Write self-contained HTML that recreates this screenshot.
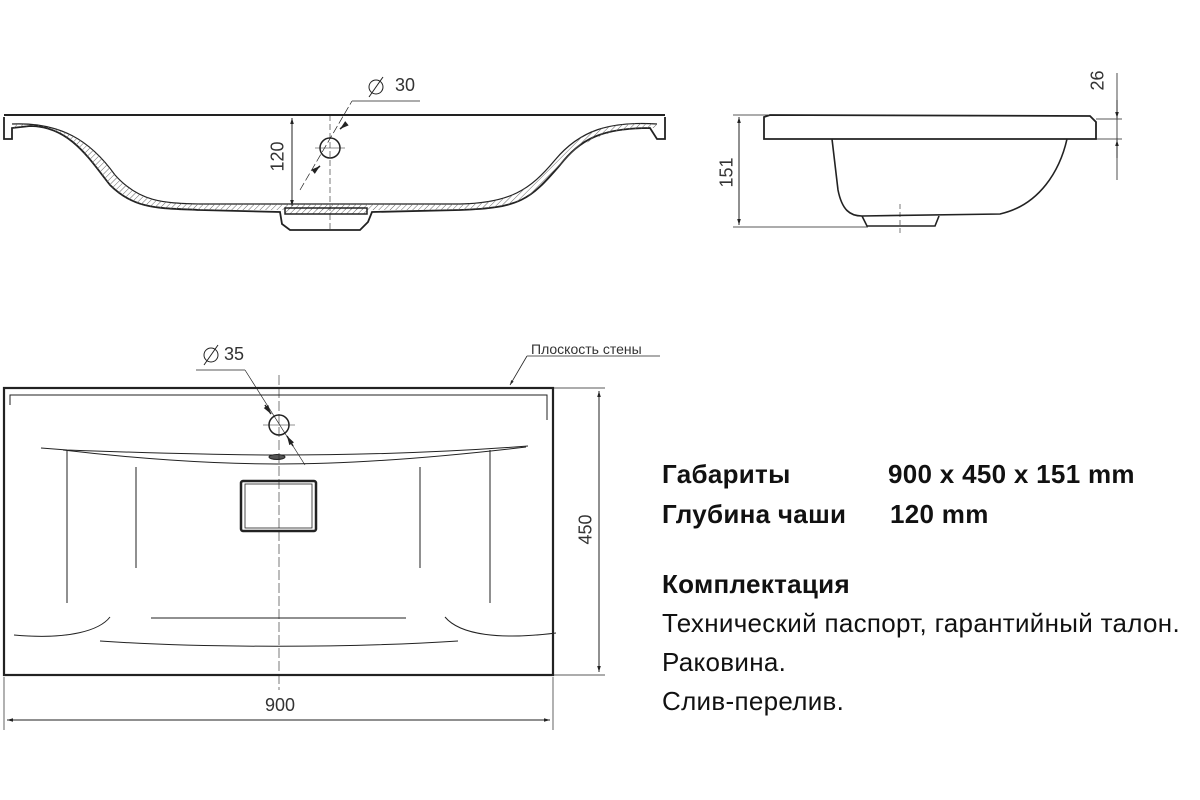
<!DOCTYPE html>
<html><head><meta charset="utf-8"><style>
body{margin:0;background:#fff;width:1200px;height:800px;overflow:hidden;position:relative;font-family:"Liberation Sans",sans-serif}
.t{position:absolute;font-size:26px;letter-spacing:0.3px;color:#111;white-space:nowrap}
.b{font-weight:bold}
.d span{white-space:nowrap}
</style></head><body>
<svg width="1200" height="800" style="position:absolute;left:0;top:0" fill="none" stroke="#222" stroke-width="1.5">
<defs>
<marker id="a" viewBox="0 0 10 10" refX="10" refY="5" markerWidth="10" markerHeight="6" orient="auto-start-reverse"><path d="M0,2 L10,5 L0,8z" fill="#222" stroke="none"/></marker>
<pattern id="h" width="4" height="4" patternUnits="userSpaceOnUse" patternTransform="rotate(45)"><line x1="0" y1="0" x2="0" y2="4" stroke="#666" stroke-width="1"/></pattern>
</defs>
<line x1="4" y1="115" x2="665" y2="115" stroke-width="2"/>
<path d="M4,117 L4,139 L12,139 L12,128 L30,126 C70,126 90,160 110,185 C135,210 160,208 200,210 L280,212 L282,224 L290,230 L360,230 L368,222 L372,212 L460,210 C520,208 530,200 560,165 C580,140 600,128 650,128 L657,139 L665,139 L665,117" stroke-width="1.8"/>
<path d="M12,124 C60,122 90,140 115,175 C140,203 165,203 200,204 L460,204 C510,203 530,190 555,160 C580,130 610,121 657,124" stroke-width="1.2"/>
<path d="M12,124 C60,122 90,140 115,175 C140,203 165,203 200,204 L460,204 C510,203 530,190 555,160 C580,130 610,121 657,124 L657,128 C610,128 585,138 560,165 C530,200 520,208 460,210 L200,210 C160,208 135,210 110,185 C90,160 70,126 30,126 L12,128z" fill="url(#h)" stroke="none"/>
<rect x="285" y="208" width="82" height="6" fill="url(#h)"/>
<line x1="292" y1="118" x2="292" y2="206" marker-start="url(#a)" marker-end="url(#a)" stroke-width="1"/>
<circle cx="330" cy="148" r="10"/>
<line x1="330" y1="115" x2="330" y2="232" stroke-width="0.6" stroke-dasharray="6,3"/>
<line x1="315" y1="148" x2="345" y2="148" stroke-width="0.6"/>
<line x1="300" y1="190" x2="352" y2="101" stroke-width="0.7" stroke-dasharray="8,3"/>
<line x1="352" y1="101" x2="420" y2="101" stroke-width="0.7"/>
<line x1="340" y1="129" x2="346" y2="124" marker-start="url(#a)" stroke-width="1.5"/>
<line x1="320" y1="166" x2="314" y2="171" marker-start="url(#a)" stroke-width="1.5"/>
<circle cx="376" cy="87" r="7" stroke-width="1"/><line x1="369" y1="97" x2="383" y2="77" stroke-width="1"/>
<path d="M764,139 L764,117 L770,115 L1090,116 L1096,122 L1096,139 Z" stroke-width="1.8"/>
<path d="M832,139 L838,190 C842,210 850,216 862,216 L1000,214 C1040,205 1060,170 1067,139" stroke-width="1.6"/>
<path d="M862,216 L867,226 L935,226 L939,216" stroke-width="1.6"/>
<line x1="900" y1="204" x2="900" y2="233" stroke-width="0.6" stroke-dasharray="5,3"/>
<line x1="733" y1="115" x2="768" y2="115" stroke-width="0.7"/>
<line x1="733" y1="227" x2="868" y2="227" stroke-width="0.7"/>
<line x1="739" y1="117" x2="739" y2="225" marker-start="url(#a)" marker-end="url(#a)" stroke-width="1"/>
<line x1="1096" y1="119" x2="1122" y2="119" stroke-width="0.7"/>
<line x1="1096" y1="139" x2="1122" y2="139" stroke-width="0.7"/>
<line x1="1117" y1="73" x2="1117" y2="180" stroke-width="0.8"/>
<line x1="1117" y1="100" x2="1117" y2="118" marker-end="url(#a)" stroke-width="1"/>
<line x1="1117" y1="158" x2="1117" y2="140" marker-end="url(#a)" stroke-width="1"/>
<rect x="4" y="388" width="549" height="287" stroke-width="2.2"/>
<path d="M10,405 L10,395 L547,395 L547,420" stroke-width="1"/>
<path d="M41,448 L67,450 C150,453 220,455 277,455 C360,455 450,452 528,446" stroke-width="1"/>
<path d="M63,450 C130,458 210,464 277,464 C360,464 450,456 526,447" stroke-width="1"/>
<ellipse cx="277" cy="457" rx="8" ry="2.5" fill="#555" stroke-width="1"/>
<circle cx="279" cy="425" r="10" stroke-width="1.5"/>
<line x1="279" y1="375" x2="279" y2="690" stroke-width="0.6" stroke-dasharray="10,3"/>
<line x1="263" y1="425" x2="295" y2="425" stroke-width="0.6"/>
<line x1="196" y1="370" x2="245" y2="370" stroke-width="0.7"/>
<line x1="245" y1="370" x2="305" y2="465" stroke-width="0.7"/>
<line x1="265" y1="405" x2="271" y2="414" marker-end="url(#a)" stroke-width="1.5"/>
<line x1="293" y1="446" x2="287" y2="436" marker-end="url(#a)" stroke-width="1.5"/>
<circle cx="211" cy="355" r="7" stroke-width="1"/><line x1="204" y1="365" x2="218" y2="345" stroke-width="1"/>
<rect x="241" y="481" width="75" height="50" rx="2" stroke-width="2.5"/>
<rect x="245" y="484" width="67" height="44" stroke-width="0.8"/>
<line x1="67" y1="450" x2="67" y2="603" stroke-width="1"/>
<line x1="136" y1="467" x2="136" y2="568" stroke-width="1"/>
<line x1="420" y1="467" x2="420" y2="568" stroke-width="1"/>
<line x1="490" y1="450" x2="490" y2="603" stroke-width="1"/>
<path d="M14,635 C70,640 100,630 110,617" stroke-width="1"/>
<path d="M445,617 C460,635 500,640 556,633" stroke-width="1"/>
<path d="M151,618 L406,618" stroke-width="1"/>
<path d="M100,641 C200,648 350,648 458,641" stroke-width="1"/>
<line x1="553" y1="388" x2="605" y2="388" stroke-width="0.7"/>
<line x1="553" y1="675" x2="605" y2="675" stroke-width="0.7"/>
<line x1="599" y1="391" x2="599" y2="672" marker-start="url(#a)" marker-end="url(#a)" stroke-width="1"/>
<line x1="4" y1="677" x2="4" y2="730" stroke-width="0.7"/>
<line x1="553" y1="677" x2="553" y2="730" stroke-width="0.7"/>
<line x1="7" y1="720" x2="550" y2="720" marker-start="url(#a)" marker-end="url(#a)" stroke-width="1"/>
<line x1="510" y1="385" x2="527" y2="356" marker-start="url(#a)" stroke-width="0.8"/>
<line x1="527" y1="356" x2="660" y2="356" stroke-width="0.7"/>
</svg>
<div class="d" style="position:absolute;left:0;top:0;font-family:'Liberation Sans Narrow','Liberation Sans',sans-serif;font-size:18px;color:#333">
<span style="position:absolute;top:75px;left:395px">30</span>
<span style="position:absolute;left:224px;top:344px">35</span>
<span style="position:absolute;left:531px;top:341px;font-size:14px">Плоскость стены</span>
<span style="position:absolute;left:265px;top:695px">900</span>
<span style="position:absolute;left:571px;top:519px;transform:rotate(-90deg)">450</span>
<span style="position:absolute;left:263px;top:146px;transform:rotate(-90deg)">120</span>
<span style="position:absolute;left:712px;top:162px;transform:rotate(-90deg)">151</span>
<span style="position:absolute;left:1088px;top:70px;transform:rotate(-90deg)">26</span>
</div>
<div class="t b" style="left:662px;top:459px">Габариты</div>
<div class="t b" style="left:888px;top:459px">900 x 450 x 151 mm</div>
<div class="t b" style="left:662px;top:499px">Глубина чаши</div>
<div class="t b" style="left:890px;top:499px">120 mm</div>
<div class="t b" style="left:662px;top:569px">Комплектация</div>
<div class="t" style="left:662px;top:608px">Технический паспорт, гарантийный талон.</div>
<div class="t" style="left:662px;top:647px">Раковина.</div>
<div class="t" style="left:662px;top:686px">Слив-перелив.</div>
</body></html>
